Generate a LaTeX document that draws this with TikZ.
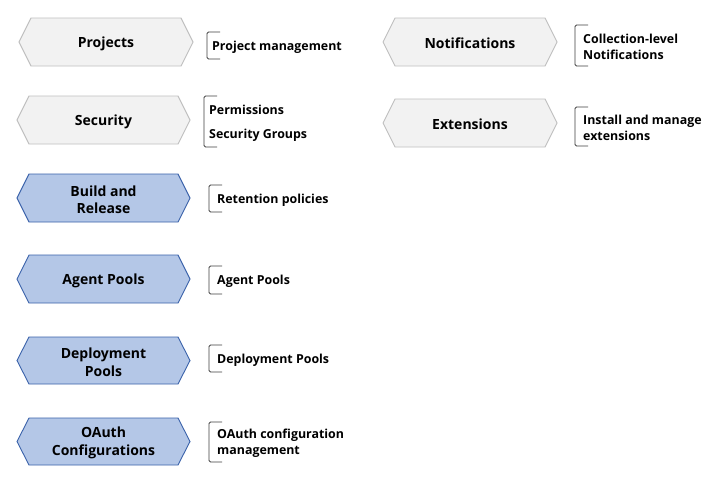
\documentclass[tikz,border=0pt]{standalone}
\usepackage{fontspec}
\setmainfont{Open Sans}
\definecolor{grayfill}{HTML}{F2F2F2}
\definecolor{grayline}{HTML}{BFBFBF}
\definecolor{bluefill}{HTML}{B4C7E7}
\definecolor{blueline}{HTML}{3A62AA}
\definecolor{brk}{HTML}{404040}
\tikzset{
  hexgray/.style={draw=grayline, fill=grayfill, line width=0.9pt, line join=miter},
  hexblue/.style={draw=blueline, fill=bluefill, line width=0.9pt, line join=miter},
  hextext/.style={font=\bfseries\fontsize{14}{17.5}\selectfont, align=center, inner sep=0pt, yshift=-1.5pt},
  brktext/.style={font=\bfseries\fontsize{12.4}{16}\selectfont, align=left, anchor=west, inner sep=0pt, yshift=-1.5pt},
  bracket/.style={draw=brk, line width=0.8pt, rounded corners=1.5pt},
}
% #1 style, #2 name, #3 left x, #4 top y, #5 bottom y, #6 right x, #7 text
\newcommand{\hexnode}[7]{%
  \path[#1] (#3,{(#4+#5)/2}) -- (#3+12,#4) -- (#6-12,#4) -- (#6,{(#4+#5)/2}) -- (#6-12,#5) -- (#3+12,#5) -- cycle;
  \node[hextext] (#2) at ({(#3+#6)/2},{(#4+#5)/2}) {#7};
}
% #1 name, #2 x, #3 top, #4 bottom, #5 text x, #6 text
\newcommand{\brknode}[6]{%
  \coordinate (#1-t) at (#2+13,#3);
  \coordinate (#1-b) at (#2+13,#4);
  \draw[bracket] (#1-t) -- (#2,#3) -- (#2,#4) -- (#1-b);
  \node[brktext] (#1) at (#5,{(#3+#4)/2}) {#6};
}
\begin{document}
\begin{tikzpicture}[x=1pt,y=-1pt]
\useasboundingbox[fill=white] (0,0) rectangle (711,493);
% left column
\hexnode{hexgray}{projects}{19}{18}{66}{193}{Projects}
\hexnode{hexgray}{security}{17}{96}{144}{190}{Security}
\hexnode{hexblue}{build}{17}{174}{222}{190}{Build and\\Release}
\hexnode{hexblue}{agent}{17}{255}{303}{190}{Agent Pools}
\hexnode{hexblue}{deploy}{17}{337}{384}{190}{Deployment\\Pools}
\hexnode{hexblue}{oauth}{17}{418}{465}{190}{OAuth\\Configurations}
% right column
\hexnode{hexgray}{notif}{383}{18}{66}{557}{Notifications}
\hexnode{hexgray}{ext}{383}{99}{147}{557}{Extensions}
% brackets
\brknode{bprojects}{207}{32}{59}{212}{Project management}
\brknode{bsecurity}{204}{96}{147}{209}{Permissions\\[8pt]Security Groups}
\brknode{bbuild}{209}{185}{212}{217}{Retention policies}
\brknode{bagent}{209}{266}{294}{217}{Agent Pools}
\brknode{bdeploy}{209}{345}{372}{217}{Deployment Pools}
\brknode{boauth}{209}{422}{462}{217}{OAuth configuration\\management}
\brknode{bnotif}{575}{25}{66}{583}{Collection-level\\Notifications}
\brknode{bext}{575}{107}{146}{583}{Install and manage\\extensions}
\end{tikzpicture}
\end{document}
